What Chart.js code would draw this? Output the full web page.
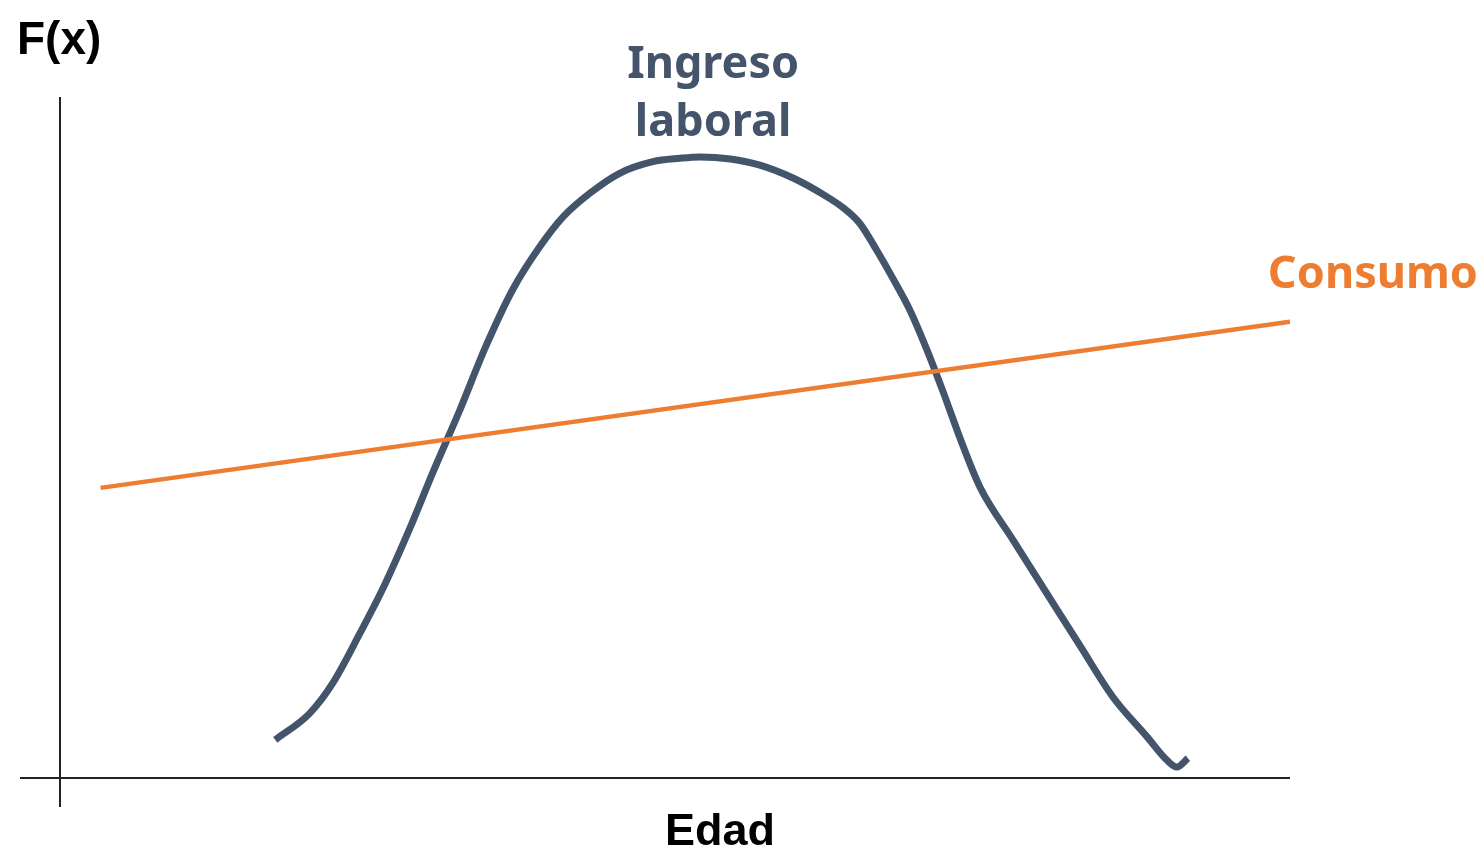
<!DOCTYPE html>
<html lang="es">
<head>
    <meta charset="UTF-8">
    <title>Ingreso laboral y consumo</title>
    <script src="https://cdn.jsdelivr.net/npm/chart.js"></script>
    <style>
        html, body { margin: 0; padding: 0; background: #fff; }
        #wrap { width: 1484px; height: 852px; position: relative; }
    </style>
</head>
<body>
    <div id="wrap"><canvas id="ciclo"></canvas></div>

    <script>
    // Edad (0-100 a lo largo del eje) y F(x) (0-100)
    const edadIngreso = [17.5, 20.3, 22.2, 24.4, 26.3, 28.5, 30.3, 32.5, 34.6, 36.8, 39.0, 40.9, 43.1, 45.5, 48.2, 50.4, 52.0, 54.5, 56.9, 59.6, 62.4, 63.7, 65.0, 66.4, 67.7, 69.1, 70.5, 71.8, 73.3, 74.8, 77.5, 80.2, 82.9, 85.6, 88.4, 90.0, 90.8, 91.7];
    const ingresoLaboral = [5.6, 9.5, 14.0, 21.3, 28.0, 36.9, 44.8, 54.0, 63.3, 71.7, 78.0, 82.4, 85.9, 88.8, 90.5, 91.0, 91.2, 90.9, 90.0, 88.1, 85.3, 83.7, 81.5, 77.5, 73.4, 68.7, 62.8, 56.7, 49.3, 42.7, 34.9, 27.2, 19.5, 11.9, 6.0, 2.6, 1.6, 2.9];
    const edadConsumo = [3.3, 100];
    const consumo = [42.6, 67.0];

    const azul = '#44546a';
    const naranja = '#ed7d31';

    // ejes y etiquetas
    const anotaciones = {
        id: 'anotaciones',
        afterDraw(chart) {
            const ctx = chart.ctx;
            const a = chart.chartArea;
            const x = chart.scales.x, y = chart.scales.y;
            ctx.save();
            ctx.strokeStyle = '#222';
            ctx.lineWidth = 2;
            ctx.beginPath();
            ctx.moveTo(a.left, a.top);
            ctx.lineTo(a.left, a.bottom + 29);
            ctx.moveTo(a.left - 40, a.bottom);
            ctx.lineTo(a.right, a.bottom);
            ctx.stroke();

            ctx.fillStyle = '#000';
            ctx.font = 'bold 46px "Liberation Sans", Arial, sans-serif';
            ctx.textAlign = 'left';
            ctx.textBaseline = 'alphabetic';
            ctx.fillText('F(x)', 17, 54);
            ctx.textAlign = 'center';
            ctx.font = 'bold 45px "Liberation Sans", Arial, sans-serif';
            ctx.fillText('Edad', 720, 845);

            ctx.fillStyle = azul;
            ctx.font = 'bold 45px "Noto Sans", sans-serif';
            ctx.fillText('Ingreso', x.getPixelForValue(53.1), y.getPixelForValue(102.8));
            ctx.fillText('laboral', x.getPixelForValue(53.1), y.getPixelForValue(94.3));

            ctx.fillStyle = naranja;
            ctx.textAlign = 'left';
            ctx.fillText('Consumo', x.getPixelForValue(98.2), y.getPixelForValue(72.0));
            ctx.restore();
        }
    };

    new Chart(document.getElementById('ciclo'), {
        type: 'line',
        data: {
            datasets: [
                {
                    label: 'Consumo',
                    data: edadConsumo.map((e, i) => ({ x: e, y: consumo[i] })),
                    borderColor: naranja,
                    borderWidth: 4.5,
                    pointRadius: 0,
                    fill: false
                },
                {
                    label: 'Ingreso laboral',
                    data: edadIngreso.map((e, i) => ({ x: e, y: ingresoLaboral[i] })),
                    borderColor: azul,
                    borderWidth: 7,
                    pointRadius: 0,
                    cubicInterpolationMode: 'monotone',
                    fill: false
                }
            ]
        },
        options: {
            responsive: true,
            maintainAspectRatio: false,
            animation: false,
            layout: { padding: { left: 60, right: 194, top: 97, bottom: 74 } },
            scales: {
                x: { type: 'linear', min: 0, max: 100, display: false },
                y: { min: 0, max: 100, display: false }
            },
            plugins: { legend: { display: false }, tooltip: { enabled: false } }
        },
        plugins: [anotaciones]
    });
    </script>
</body>
</html>
